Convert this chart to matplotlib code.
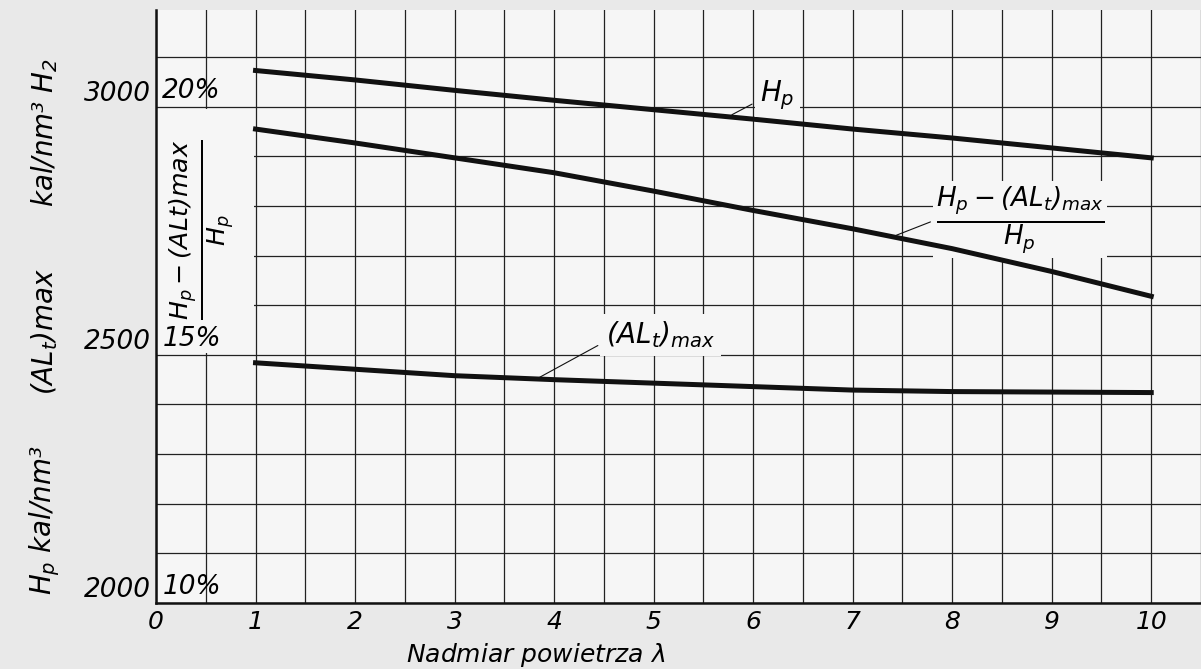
import matplotlib.pyplot as plt
from matplotlib.patches import Rectangle

# values (lambda = air excess)
lam = [1, 2, 3, 4, 5, 6, 7, 8, 9, 10]
hp = [3073, 3054, 3033, 3013, 2994, 2975, 2955, 2937, 2917, 2897]
al_max = [2484, 2471, 2458, 2450, 2443, 2436, 2429, 2426, 2425, 2424]
ratio_pct = [19.55, 19.27, 18.97, 18.67, 18.30, 17.91, 17.54, 17.14, 16.68, 16.18]

x_ticks = [0, 1, 2, 3, 4, 5, 6, 7, 8, 9, 10]
kal_ticks = [2000, 2500, 3000]
pct_ticks = [10, 15, 20]

BG_FIG = "#e9e9e9"
BG_AX = "#f6f6f6"
INK = "#111111"


def main():
    plt.rcParams["font.family"] = ["DejaVu Sans"]
    plt.rcParams["font.style"] = "italic"
    plt.rcParams["mathtext.fontset"] = "custom"
    plt.rcParams["mathtext.rm"] = "DejaVu Sans:italic"
    plt.rcParams["mathtext.it"] = "DejaVu Sans:italic"
    plt.rcParams["mathtext.sf"] = "DejaVu Sans:italic"
    plt.rcParams["mathtext.bf"] = "DejaVu Sans:bold:italic"

    fig = plt.figure(figsize=(12.01, 6.69), dpi=100, facecolor=BG_FIG)
    ax = fig.add_axes([0.1299, 0.0987, 0.8701, 0.8864])
    ax.set_facecolor(BG_AX)

    ymin, ymax = 2000, 3195
    ax.set_xlim(0, 10.45)
    ax.set_ylim(ymin, ymax)

    ax.set_xticks(x_ticks)
    ax.set_xticks([v + 0.5 for v in x_ticks], minor=True)
    ax.set_xticklabels([str(v) for v in x_ticks], fontsize=18)
    ax.set_yticks(kal_ticks)
    ax.set_yticks(range(2100, 3200, 100), minor=True)
    ax.set_yticklabels([str(v) for v in kal_ticks], fontsize=19)
    for lab in ax.get_yticklabels():
        lab.set_verticalalignment("bottom")
    ax.tick_params(axis="both", which="both", length=0)
    ax.tick_params(axis="x", pad=5)
    ax.tick_params(axis="y", pad=4)

    ax.set_axisbelow(True)
    ax.grid(True, which="both", color="#222222", linewidth=0.9)
    for side in ["top", "right"]:
        ax.spines[side].set_visible(False)
    for side in ["left", "bottom"]:
        ax.spines[side].set_linewidth(1.8)
        ax.spines[side].set_color(INK)

    # blank strip behind the left ratio label
    ax.add_patch(Rectangle((0.012, 2504), 0.975, 492, facecolor=BG_AX,
                           edgecolor="none", zorder=1))

    ax.plot(lam, hp, color=INK, linewidth=3.6, zorder=2)
    ax.plot(lam, al_max, color=INK, linewidth=3.6, zorder=2)

    # percent scale for the ratio curve
    ax2 = ax.twinx()
    ax2.set_ylim(10 + (ymin - 2000) / 100, 10 + (ymax - 2000) / 100)
    ax2.set_yticks([])
    for side in ax2.spines:
        ax2.spines[side].set_visible(False)
    ax2.plot(lam, ratio_pct, color=INK, linewidth=3.6, zorder=2)
    for p in pct_ticks:
        ax2.text(0.006, p + 0.05, f"{p}%", fontsize=19, ha="left", va="bottom",
                 transform=ax2.get_yaxis_transform())

    box = dict(facecolor=BG_AX, edgecolor="none", pad=4)
    arrow = dict(arrowstyle="-", color=INK, linewidth=0.8, shrinkA=2, shrinkB=3)

    ax.annotate(r"$H_p$", xy=(5.75, 2980), xytext=(6.07, 3024), fontsize=20,
                ha="left", va="center", bbox=box,
                arrowprops=dict(arrow, relpos=(0, 0.35)))
    ax.annotate(r"$(AL_t)_{max}$", xy=(3.82, 2451), xytext=(4.52, 2540),
                fontsize=20, ha="left", va="center", bbox=box,
                arrowprops=dict(arrow, relpos=(0, 0.3)))
    ax2.annotate(r"$\frac{H_p-(AL_t)_{max}}{H_p}$", xy=(7.4, 17.38),
                 xytext=(8.68, 17.72), fontsize=27, ha="center", va="center",
                 bbox=dict(box, pad=2), zorder=1.5,
                 arrowprops=dict(arrow, relpos=(0, 0.5)))

    ax.text(0.46, 2752, r"$\frac{H_p-(ALt)max}{H_p}$", rotation=90,
            fontsize=26, ha="center", va="center", zorder=3)

    ax.set_xlabel(r"Nadmiar powietrza $\lambda$", fontsize=18)
    ax.xaxis.set_label_coords(0.3636, -0.1113)
    ax.xaxis.label.set_verticalalignment("bottom")

    # rotated unit label on the far left
    fx = 45 / 1201
    fig.text(fx, 1 - 520 / 669, r"$H_p$ kal/nm³", rotation=90, fontsize=20,
             ha="center", va="center")
    fig.text(fx, 1 - 331 / 669, r"$(AL_t)max$", rotation=90, fontsize=20,
             ha="center", va="center")
    fig.text(fx, 1 - 133 / 669, r"kal/nm³ $H_2$", rotation=90, fontsize=20,
             ha="center", va="center")

    fig.savefig("out.png", dpi=100, facecolor=BG_FIG)


if __name__ == "__main__":
    main()
